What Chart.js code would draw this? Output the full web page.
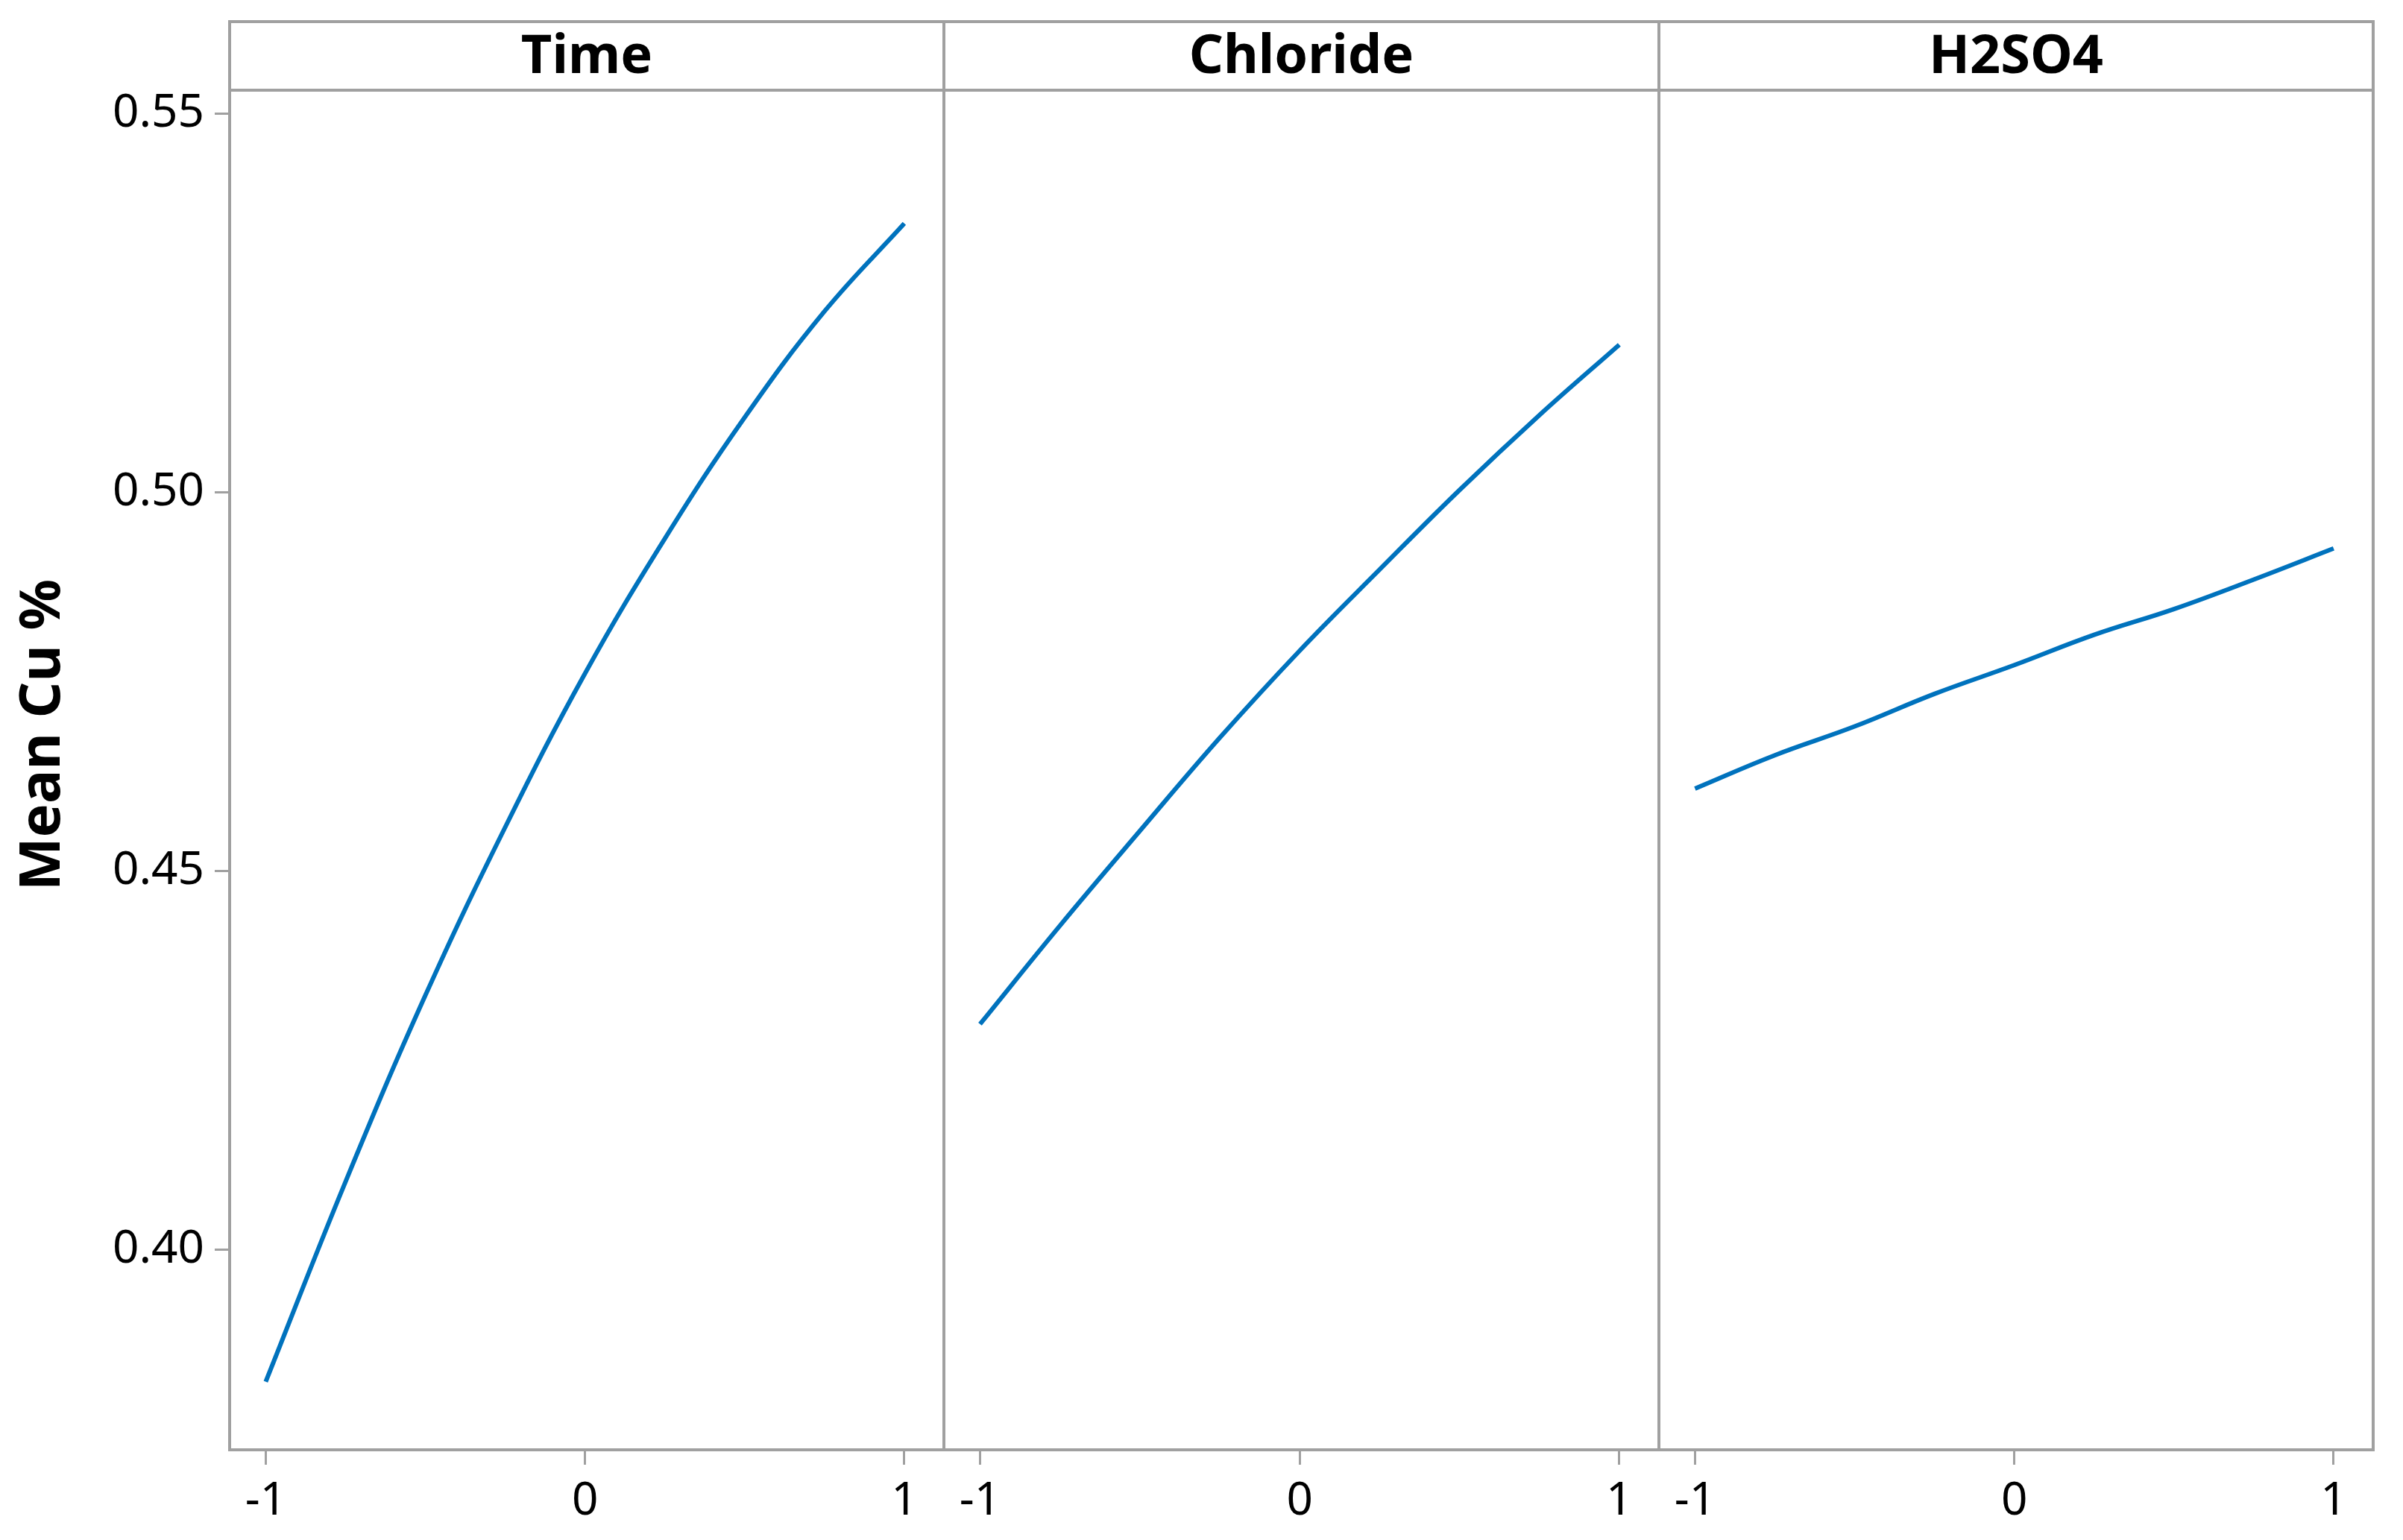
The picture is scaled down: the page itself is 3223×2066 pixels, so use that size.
<!DOCTYPE html>
<html>
<head>
<meta charset="utf-8">
<script src="https://cdn.jsdelivr.net/npm/chart.js@4.4.1/dist/chart.umd.min.js"></script>
<style>
  html, body { margin: 0; padding: 0; background: #fff; }
  #wrap { position: relative; width: 3223px; height: 2066px; overflow: hidden; background: #fff; }
  #wrap canvas { position: absolute; top: 0; }
</style>
</head>
<body>
<div id="wrap">
  <canvas id="pTime"></canvas>
  <canvas id="pChloride"></canvas>
  <canvas id="pH2SO4"></canvas>
</div>
<script>
// Main effects plot for Mean Cu % (coded levels -1 .. 1)
const factorNames = ['Time', 'Chloride', 'H2SO4'];
const xLevels = [-1, -0.75, -0.5, -0.25, 0, 0.25, 0.5, 0.75, 1];
const timeMean = [0.3826, 0.4090, 0.4336, 0.4558, 0.4761, 0.4939, 0.5099, 0.5239, 0.5355];
const chlorideMean = [0.4298, 0.4428, 0.4553, 0.4676, 0.4791, 0.4898, 0.5003, 0.5102, 0.5195];
const h2so4Mean = [0.4609, 0.4653, 0.4691, 0.4734, 0.4772, 0.4812, 0.4846, 0.4885, 0.4926];
const xTicks = [-1, 0, 1];
const yTicks = [0.40, 0.45, 0.50, 0.55];
const yTitle = 'Mean Cu %';

const FRAME = '#a0a0a0';
const LINE = '#0072bd';
const FONT = "'Noto Sans', 'Open Sans', sans-serif";

// panel geometry (px)
const H = 2066;
const HEADER_TOP = 29, AREA_TOP = 121, AREA_BOTTOM = 1945;
const panelEdges = [308, 1266, 2225, 3183];
const PAD = 20;
const X_MIN = -1.113, X_MAX = 1.124;
const Y_MIN = 0.3736, Y_MAX = 0.5531;

const panelFrame = {
    id: 'panelFrame',
    afterDraw(chart, args, opts) {
        const { ctx, chartArea: a } = chart;
        ctx.save();
        ctx.strokeStyle = FRAME;
        ctx.lineWidth = 4;
        ctx.strokeRect(a.left, HEADER_TOP, a.right - a.left, a.bottom - HEADER_TOP);
        ctx.beginPath();
        ctx.moveTo(a.left, a.top);
        ctx.lineTo(a.right, a.top);
        ctx.stroke();

        ctx.fillStyle = '#000';
        ctx.font = `bold 72px ${FONT}`;
        ctx.textAlign = 'center';
        ctx.textBaseline = 'middle';
        ctx.fillText(opts.title, (a.left + a.right) / 2, (HEADER_TOP + a.top) / 2 + 2);

        if (opts.yTitle) {
            ctx.translate(58, 986);
            ctx.rotate(-Math.PI / 2);
            ctx.font = `bold 76px ${FONT}`;
            ctx.fillText(opts.yTitle, 0, 0);
        }
        ctx.restore();
    }
};

function makePanel(id, idx, values) {
    const left = panelEdges[idx], right = panelEdges[idx + 1];
    const first = idx === 0;
    const canvasLeft = first ? 0 : left - PAD;
    const width = right + PAD - canvasLeft;
    const cv = document.getElementById(id);
    cv.width = width;
    cv.height = H;
    cv.style.left = canvasLeft + 'px';
    cv.style.width = width + 'px';
    cv.style.height = H + 'px';

    const tickFont = { family: FONT, size: 62 };

    return new Chart(cv, {
        type: 'line',
        data: {
            datasets: [{
                label: factorNames[idx],
                data: xLevels.map((x, i) => ({ x: x, y: values[i] })),
                borderColor: LINE,
                borderWidth: 6,
                pointRadius: 0,
                tension: 0.4,
                fill: false
            }]
        },
        options: {
            responsive: false,
            animation: false,
            devicePixelRatio: 1,
            layout: { padding: { top: AREA_TOP, left: 0, right: PAD, bottom: 0 } },
            plugins: {
                legend: { display: false },
                tooltip: { enabled: false },
                panelFrame: { title: factorNames[idx], yTitle: first ? yTitle : null }
            },
            scales: {
                x: {
                    type: 'linear',
                    min: X_MIN,
                    max: X_MAX,
                    afterBuildTicks: s => { s.ticks = xTicks.map(v => ({ value: v })); },
                    afterFit: s => { s.height = H - AREA_BOTTOM; },
                    border: { display: false },
                    grid: { drawOnChartArea: false, drawTicks: true, tickLength: 20, tickWidth: 3, tickColor: FRAME },
                    ticks: { font: tickFont, color: '#000', padding: 12, maxRotation: 0, callback: v => String(v) }
                },
                y: {
                    min: Y_MIN,
                    max: Y_MAX,
                    afterBuildTicks: s => { s.ticks = yTicks.map(v => ({ value: v })); },
                    afterFit: s => { s.width = left - canvasLeft; },
                    border: { display: false },
                    grid: { display: first, drawOnChartArea: false, drawTicks: true, tickLength: 20, tickWidth: 3, tickColor: FRAME },
                    ticks: { display: first, font: tickFont, color: '#000', padding: 14, callback: v => v.toFixed(2) }
                }
            }
        },
        plugins: [panelFrame]
    });
}

makePanel('pTime', 0, timeMean);
makePanel('pChloride', 1, chlorideMean);
makePanel('pH2SO4', 2, h2so4Mean);
</script>
</body>
</html>
